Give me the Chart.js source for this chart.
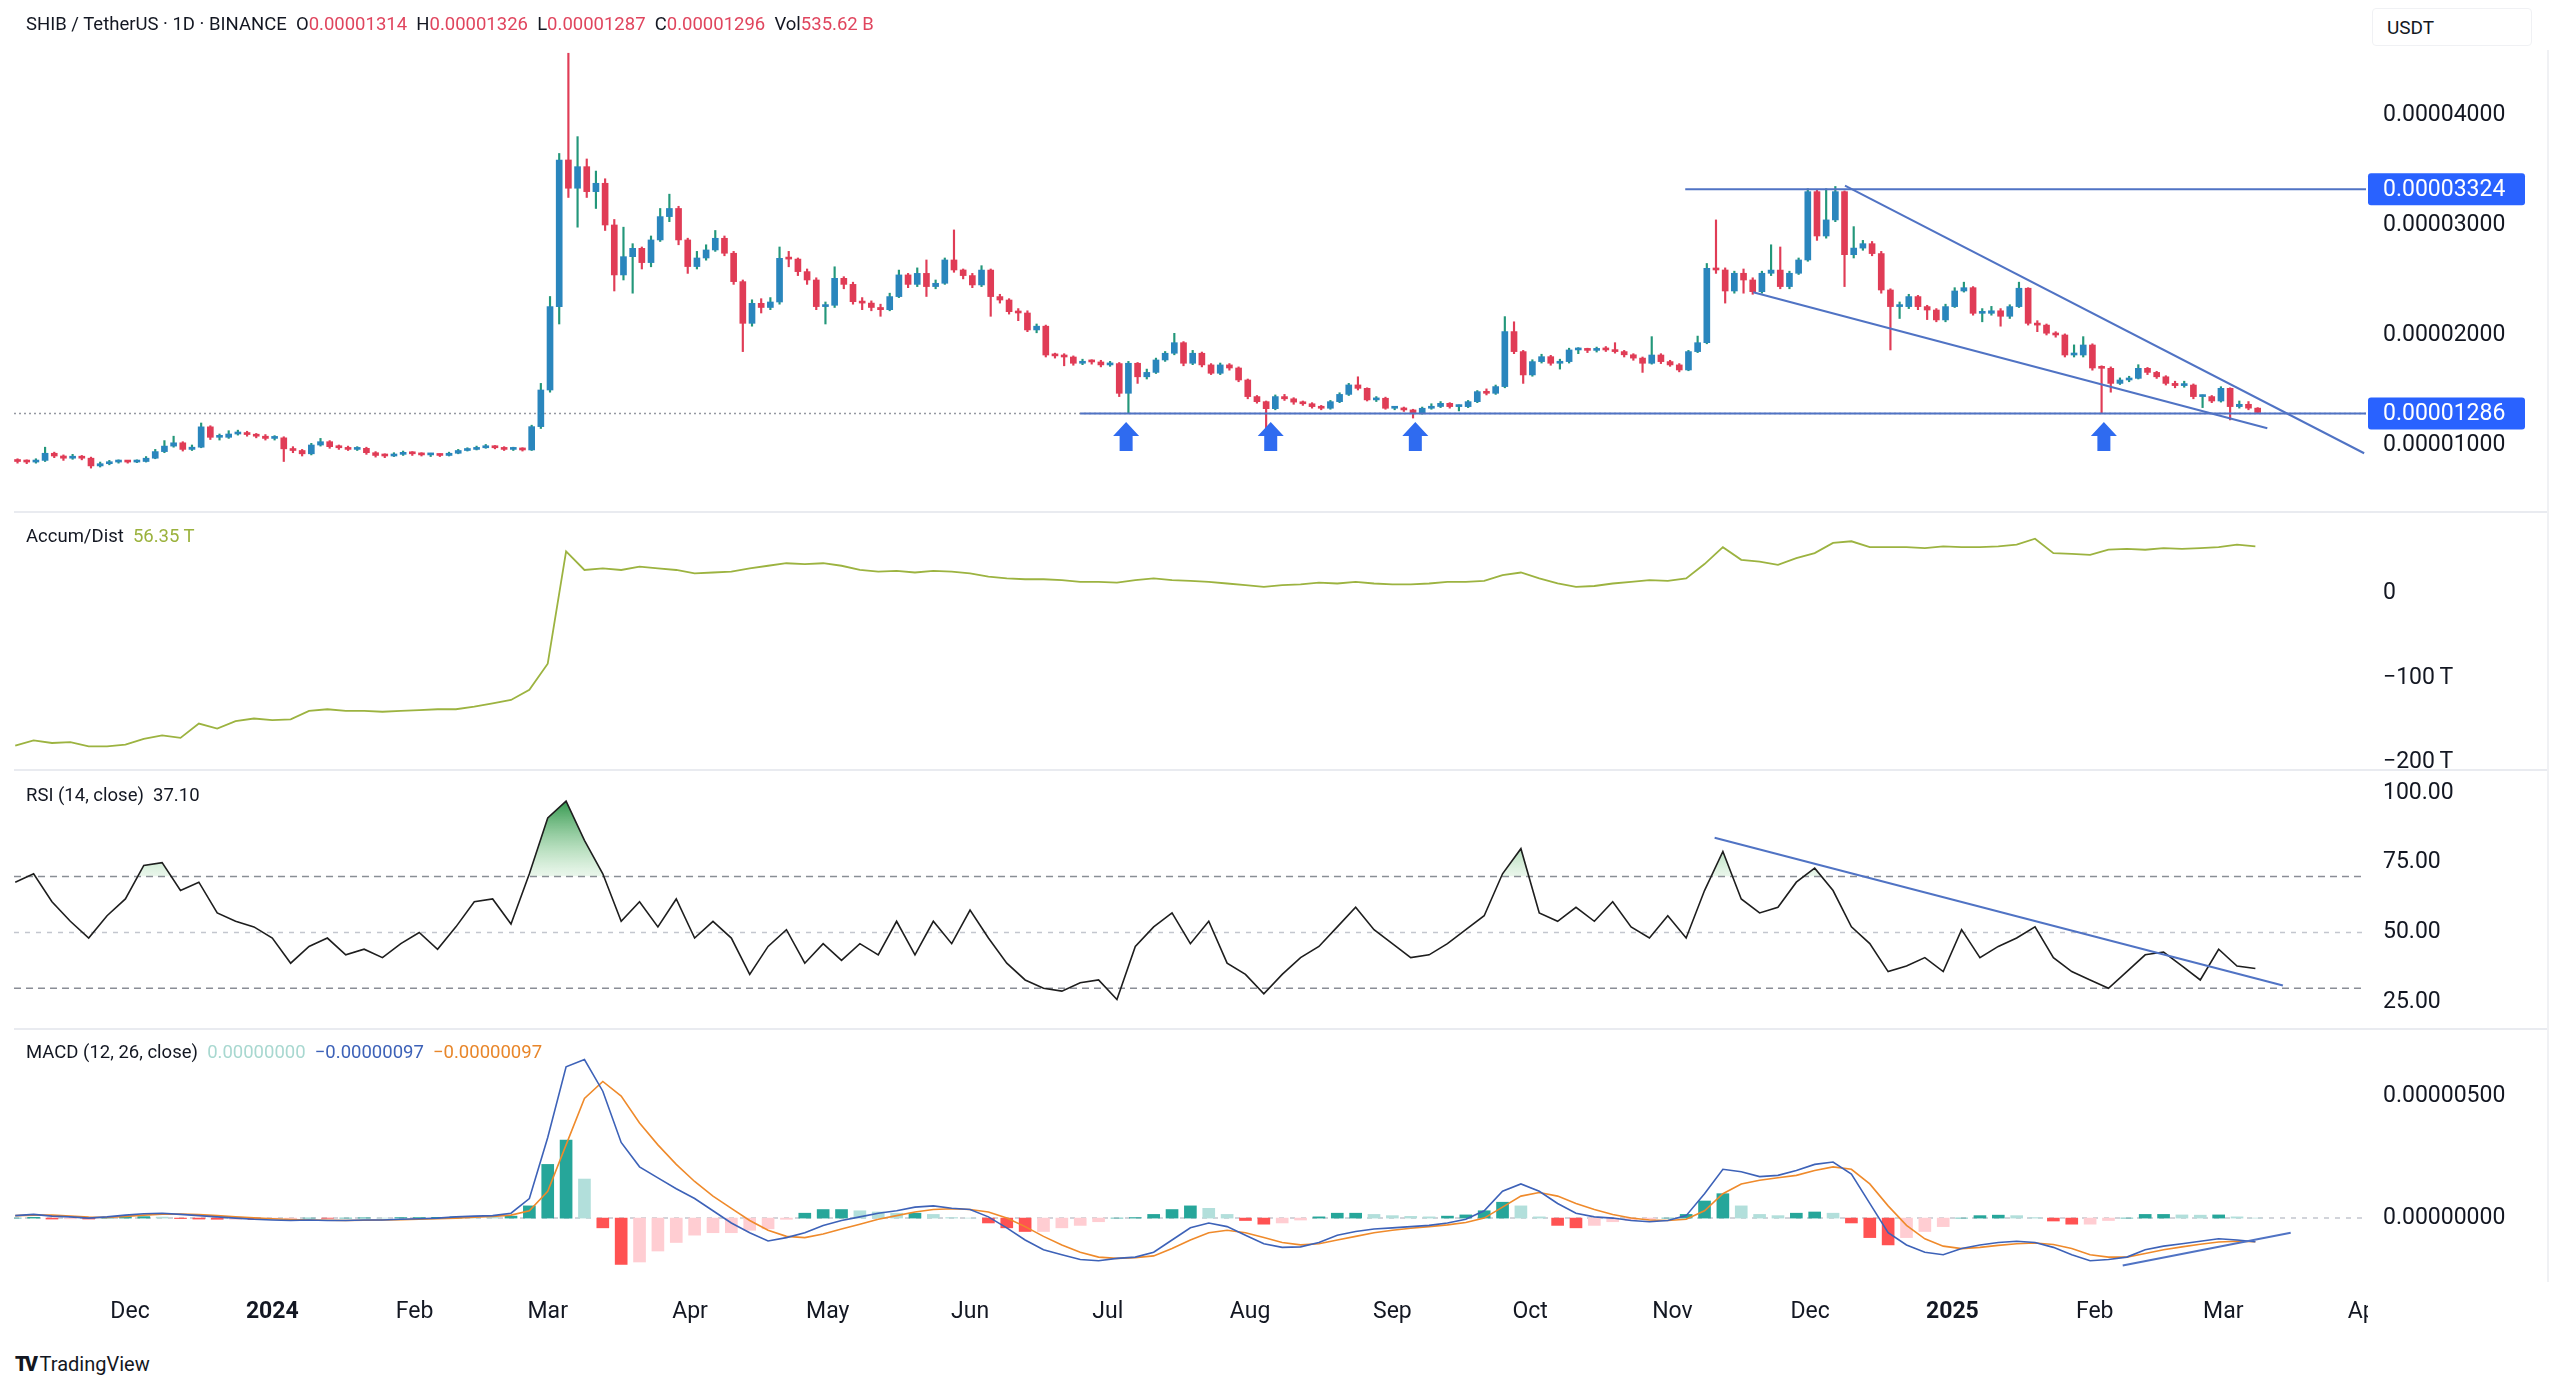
<!DOCTYPE html>
<html>
<head>
<meta charset="utf-8">
<script src="https://cdn.jsdelivr.net/npm/chart.js@4.4.1/dist/chart.umd.min.js"></script>
<style>
  html, body { margin: 0; padding: 0; background: #fff; }
  #wrap { position: relative; width: 2560px; height: 1387px; overflow: hidden;
          font-family: Roboto, "Noto Sans", sans-serif; color: #131722; }
  #wrap canvas { position: absolute; left: 0; }
  .lbl { position: absolute; white-space: pre; font-size: 18.5px; line-height: 24px; }
  .red { color: #e0455e; }
  .sep { position: absolute; left: 14px; width: 2534px; height: 2px; background: #e9ebf0; }
</style>
</head>
<body>
<div id="wrap">
  <canvas id="cMain" width="2560" height="512" style="top:0px"></canvas>
  <canvas id="cAD" width="2560" height="258" style="top:512px"></canvas>
  <canvas id="cRSI" width="2560" height="259" style="top:770px"></canvas>
  <canvas id="cMACD" width="2560" height="311" style="top:1029px"></canvas>

  <div class="sep" style="top:511px"></div>
  <div class="sep" style="top:769px"></div>
  <div class="sep" style="top:1028px"></div>
  <div style="position:absolute;left:2547px;top:50px;width:2px;height:1232px;background:#f0f1f4"></div>

  <div class="lbl" style="left:26px;top:12px">SHIB / TetherUS · 1D · BINANCE  O<span class="red">0.00001314</span>  H<span class="red">0.00001326</span>  L<span class="red">0.00001287</span>  C<span class="red">0.00001296</span>  Vol<span class="red">535.62 B</span></div>
  <div class="lbl" style="left:2372px;top:8px;width:160px;height:38px;line-height:38px;font-size:19px;padding-left:14px;box-sizing:border-box;border:1px solid #f0f1f4;border-radius:4px;background:#fff">USDT</div>
  <div class="lbl" style="left:26px;top:524px">Accum/Dist  <span style="color:#9bb23d">56.35 T</span></div>
  <div class="lbl" style="left:26px;top:783px">RSI (14, close)  37.10</div>
  <div class="lbl" style="left:26px;top:1040px">MACD (12, 26, close)  <span style="color:#a8d8d0">0.00000000</span>  <span style="color:#3d62b8">−0.00000097</span>  <span style="color:#e8862a">−0.00000097</span></div>
  <div class="lbl" style="left:15px;top:1352px;font-size:20px"><b style="letter-spacing:-3px;font-weight:900">TV</b> TradingView</div>
</div>

<script>
// ---- data (prices in units of 1e-8 USDT), 2-day candles starting at day -25 (day 0 = 1 Dec 2023)
const CANDLE_START = -25;
const CANDLE_SPAN = 2;
const firstOpen = 860;
const closes = [
  850,845,860,925,900,880,895,880,810,830,
  845,850,845,850,880,940,990,1020,960,980,
  1165,1070,1070,1100,1110,1095,1080,1060,1065,965,
  950,920,1000,1030,985,975,960,970,930,905,
  900,915,930,920,910,910,905,925,950,960,
  975,990,975,960,965,955,1167,1500,2258,3591,
  3334,3530,3303,3379,3000,2546,2712,2788,2658,2864,
  3076,3150,2864,2622,2700,2773,2879,2743,2485,2106,
  2288,2250,2300,2697,2690,2576,2500,2258,2270,2515,
  2460,2303,2290,2250,2230,2349,2546,2460,2560,2440,
  2470,2682,2591,2540,2455,2590,2349,2318,2212,2200,
  2046,2080,1818,1810,1800,1743,1758,1755,1728,1740,
  1470,1743,1620,1660,1773,1834,1930,1743,1834,1728,
  1652,1728,1700,1591,1440,1394,1330,1440,1420,1390,
  1375,1349,1334,1394,1460,1546,1515,1410,1425,1334,
  1335,1319,1290,1334,1350,1379,1349,1349,1394,1485,
  1470,1531,2031,1849,1637,1758,1803,1743,1758,1864,
  1864,1860,1870,1864,1849,1820,1790,1743,1818,1758,
  1728,1682,1849,1930,2606,2591,2400,2561,2500,2394,
  2561,2590,2440,2561,2682,3303,2900,3046,3303,2730,
  2790,2830,2740,2409,2258,2258,2349,2258,2227,2137,
  2258,2400,2430,2197,2197,2220,2170,2258,2425,2106,
  2090,2016,2000,1818,1818,1909,1700,1697,1560,1591,
  1606,1697,1660,1620,1560,1540,1545,1440,1440,1400,
  1515,1349,1370,1335,1296
];
const highs = [
  875,865,875,980,935,910,915,905,890,845,
  860,865,860,865,895,960,1040,1080,1030,1000,
  1200,1175,1100,1130,1135,1125,1105,1095,1085,1075,
  985,960,1015,1060,1040,1000,990,985,980,940,
  920,930,945,940,930,925,920,935,960,975,
  990,1005,995,985,980,975,1180,1560,2350,3650,
  4561,3803,3600,3490,3420,3050,2980,2830,2800,2900,
  3150,3280,3170,2880,2760,2820,2950,2900,2760,2500,
  2320,2330,2340,2800,2760,2700,2600,2520,2300,2620,
  2530,2480,2340,2310,2280,2380,2590,2560,2610,2682,
  2500,2700,2955,2600,2560,2630,2600,2370,2330,2240,
  2220,2100,2090,1835,1830,1810,1780,1775,1770,1760,
  1750,1760,1750,1690,1790,1850,2015,1940,1860,1845,
  1740,1745,1740,1710,1600,1450,1400,1455,1460,1430,
  1400,1385,1360,1405,1475,1560,1620,1520,1440,1435,
  1350,1345,1325,1345,1375,1395,1385,1365,1405,1495,
  1510,1545,2167,2120,1860,1775,1825,1815,1780,1880,
  1885,1880,1890,1895,1930,1860,1830,1800,1985,1830,
  1770,1740,1860,1990,2650,3046,2610,2580,2600,2520,
  2580,2820,2800,2580,2700,3330,3320,3330,3350,3310,
  2985,2860,2850,2760,2420,2300,2370,2360,2270,2240,
  2280,2430,2480,2440,2240,2260,2240,2275,2480,2430,
  2130,2100,2030,2010,1910,1985,1920,1720,1710,1610,
  1625,1730,1705,1670,1630,1580,1580,1555,1455,1450,
  1530,1520,1400,1395,1340
];
const lows = [
  835,830,835,850,885,860,870,865,790,800,
  820,835,835,840,845,875,930,980,945,950,
  975,1050,1045,1060,1090,1080,1065,1045,1045,850,
  930,900,910,990,970,960,950,950,915,890,
  885,895,905,905,900,895,895,900,920,945,
  955,970,965,950,950,945,950,1150,1480,2100,
  3250,2980,3250,3150,2950,2400,2500,2380,2600,2620,
  2850,3030,2820,2560,2600,2680,2760,2720,2460,1849,
  2080,2200,2230,2280,2620,2540,2460,2230,2100,2250,
  2420,2280,2230,2220,2170,2220,2340,2430,2440,2350,
  2420,2460,2570,2510,2430,2440,2170,2290,2190,2130,
  2030,2020,1800,1790,1720,1725,1730,1735,1710,1715,
  1440,1290,1560,1600,1650,1760,1820,1720,1730,1710,
  1640,1640,1680,1575,1420,1380,1107,1320,1405,1370,
  1360,1335,1320,1325,1385,1450,1500,1400,1395,1325,
  1320,1305,1245,1280,1325,1340,1335,1310,1340,1385,
  1455,1460,1520,1830,1560,1625,1745,1725,1690,1745,
  1830,1840,1845,1850,1835,1800,1770,1660,1735,1740,
  1715,1665,1675,1840,1920,2560,2290,2380,2380,2370,
  2380,2540,2420,2420,2550,2670,2860,2880,3030,2440,
  2700,2770,2720,2380,1864,2150,2240,2230,2140,2120,
  2120,2250,2390,2180,2120,2180,2080,2150,2250,2090,
  2030,2000,1980,1800,1800,1800,1680,1290,1480,1550,
  1575,1600,1640,1605,1545,1520,1525,1420,1340,1385,
  1390,1228,1335,1320,1287
];

// indicators sampled every 4 days from day -25
const IND_START = -25;
const IND_STEP = 4;
const adValues = [ // trillions
  -180,-174,-177,-176,-181,-181,-179,-172,-168,-171,
  -154,-160,-151,-148,-150,-149,-139,-137,-139,-139,
  -140,-139,-138,-137,-137,-134,-130,-126,-114,-83,
  50,28,30,28,32,30,28,24,25,26,
  30,33,36,35,36,33,28,26,27,25,
  27,26,24,20,18,17,17,16,14,14,
  13,16,18,16,15,14,12,10,8,10,
  11,13,12,14,12,11,11,12,14,14,
  15,22,25,18,12,8,9,12,14,16,
  15,18,35,55,40,38,34,42,48,60,
  62,55,55,55,54,56,55,55,56,58,
  65,48,47,46,52,53,52,54,53,54,
  55,58,56
];
const rsiValues = [
  68,71,61,54,48,56,62,74,75,65,
  68,57,54,52,48,39,45,48,42,44,
  41,46,50,44,52,61,62,53,71,91,
  97,83,71,54,61,52,62,48,54,48,
  35,45,51,39,46,40,46,42,54,42,
  54,46,58,48,39,33,30,29,32,33,
  26,45,52,57,46,54,39,35,28,35,
  41,45,52,59,51,46,41,42,46,51,
  56,71,80,57,54,59,54,61,52,48,
  56,48,65,79,62,57,59,68,73,65,
  52,46,36,38,41,36,51,41,45,48,
  52,41,36,33,30,36,42,43,38,33,
  44,38,37.1
];
const macdValues = [ // units of 1e-8
  10,15,8,5,0,5,12,18,20,15,
  10,5,0,-5,-8,-10,-8,-10,-10,-8,
  -8,-5,-3,0,5,8,10,20,80,330,
  620,650,520,310,210,165,120,80,30,-20,
  -60,-94,-80,-60,-30,-10,5,20,30,45,
  50,40,35,5,-40,-90,-130,-150,-170,-175,
  -165,-160,-140,-90,-40,-20,-35,-70,-105,-120,
  -118,-100,-70,-55,-45,-40,-35,-30,-20,-5,
  30,110,140,110,60,20,5,0,-10,-15,
  -10,10,100,200,190,170,175,195,220,230,
  180,60,-60,-110,-140,-150,-125,-110,-100,-95,
  -100,-120,-150,-175,-170,-160,-130,-115,-105,-95,
  -85,-90,-97
];
const signalValues = [
  10,12,12,8,4,3,7,12,16,17,
  14,10,5,1,-3,-6,-8,-9,-10,-9,
  -8,-7,-5,-3,0,4,7,12,30,110,
  300,490,560,500,390,300,220,150,90,40,
  -10,-50,-75,-80,-65,-45,-25,-5,10,25,
  35,38,35,25,0,-35,-75,-110,-140,-160,
  -165,-162,-155,-125,-90,-60,-50,-60,-80,-100,
  -110,-105,-90,-75,-60,-50,-42,-35,-28,-18,
  0,45,90,105,90,60,35,15,0,-8,
  -10,-5,30,100,140,155,165,175,195,210,
  200,140,50,-30,-85,-115,-125,-120,-112,-105,
  -102,-108,-125,-150,-160,-160,-145,-130,-118,-107,
  -98,-95,-97
];
const histValues = [
  0,3,-4,-3,-4,2,5,6,4,-2,
  -4,-5,-5,-6,-5,-4,0,-1,0,1,
  0,2,2,3,5,4,3,8,50,220,
  320,160,-40,-190,-180,-135,-100,-70,-60,-60,
  -50,-44,-5,20,35,35,30,25,20,20,
  15,2,0,-20,-40,-55,-55,-40,-30,-15,
  0,2,15,35,50,40,15,-10,-25,-20,
  -8,5,20,20,15,10,7,5,8,13,
  30,65,50,5,-30,-40,-30,-15,-10,-7,
  0,15,70,100,50,15,10,20,25,20,
  -20,-80,-110,-80,-55,-35,0,10,12,10,
  2,-12,-25,-25,-10,0,15,15,13,12,
  13,5,0
];

// axis ticks
const monthDays   = [0, 31, 62, 91, 122, 152, 183, 213, 244, 275, 305, 336, 366, 397, 428, 456, 487];
const monthLabels = ['Dec','2024','Feb','Mar','Apr','May','Jun','Jul','Aug','Sep','Oct','Nov','Dec','2025','Feb','Mar','Apr'];
const priceTicks = [1000, 2000, 3000, 4000];
const adTicks = [0, -100, -200];
const rsiTicks = [100, 75, 50, 25];
const macdTicks = [500, 0];

// drawings (day, value)
const resistanceLine = [[338.8, 3324], [487.1, 3324]];
const supportLine    = [[207, 1286], [487.1, 1286]];
const wedgeUpper     = [[373.6, 3358], [486.7, 925]];
const wedgeLower     = [[353.6, 2388], [465.6, 1152]];
const rsiTrend       = [[345.2, 83.9], [469, 31]];
const macdTrend      = [[434.1, -194], [470.7, -60]];
const priceMarks     = [3324, 1286];
const lastPriceLevel = 1286;
const arrowDays      = [217, 248.5, 280, 430];
const arrowTipPrice  = 1209;
const rsiLevels      = [70, 50, 30];

// ---- styling
const FONT = 'Roboto, "Noto Sans", sans-serif';
const X_MIN = -25.27, X_MAX = 487.1;
const UP_BODY = '#2a86bd', UP_WICK = '#23977a', DOWN = '#e03c56';
const DRAW_BLUE = '#5073c4';
const TAG_BLUE = '#2962ff';

const opens = closes.map((c, i) => i === 0 ? firstOpen : closes[i - 1]);
const candleX = closes.map((c, i) => CANDLE_START + i * CANDLE_SPAN + 0.5);
const isUp = closes.map((c, i) => c >= opens[i]);
const indX = adValues.map((v, i) => IND_START + i * IND_STEP);
const pts = pairs => pairs.map(p => ({x: p[0], y: p[1]}));
const series = vals => vals.map((v, i) => ({x: indX[i], y: v}));

function noPad(s) { s.paddingTop = 0; s.paddingBottom = 0; s.paddingLeft = 0; s.paddingRight = 0; }

function xAxis(show) {
  return {
    type: 'linear', min: X_MIN, max: X_MAX, offset: false, display: show,
    grid: {display: false, drawTicks: false}, border: {display: false},
    afterFit: s => { if (show) s.height = 58; noPad(s); },
    afterBuildTicks: s => { s.ticks = monthDays.map(v => ({value: v})); },
    ticks: {
      autoSkip: false, maxRotation: 0, padding: 16, color: '#131722',
      font: c => ({family: FONT, size: 23, weight: /^\d{4}$/.test(monthLabels[c.index]) ? '700' : '400'}),
      callback: (v, i) => monthLabels[i]
    }
  };
}
function yAxis(min, max, ticks, fmt) {
  return {
    type: 'linear', position: 'right', min: min, max: max,
    grid: {display: false, drawTicks: false}, border: {display: false},
    afterFit: s => { s.width = 182; noPad(s); },
    afterBuildTicks: s => { s.ticks = ticks.map(v => ({value: v})); },
    ticks: {padding: 17, color: '#131722', font: {family: FONT, size: 23}, callback: fmt}
  };
}
const base = {
  responsive: false, animation: false, devicePixelRatio: 1, events: [],
  layout: {padding: {left: 14, right: 12, top: 0, bottom: 0}},
  plugins: {legend: {display: false}, tooltip: {enabled: false}}
};
const fmtPrice = v => (v * 1e-8).toFixed(8);
const lineDs = (data, color, width, order) => ({
  type: 'line', data: data, borderColor: color, borderWidth: width,
  pointRadius: 0, tension: 0, fill: false, order: order
});

function hLine(ctx, area, y, color, dash, width) {
  ctx.save();
  ctx.strokeStyle = color; ctx.lineWidth = width; ctx.setLineDash(dash);
  ctx.beginPath(); ctx.moveTo(area.left, y); ctx.lineTo(area.right, y); ctx.stroke();
  ctx.restore();
}

// main price panel
const mainDecor = {
  id: 'mainDecor',
  beforeDatasetsDraw(chart) {
    const y = chart.scales.y;
    hLine(chart.ctx, chart.chartArea, y.getPixelForValue(lastPriceLevel), '#9598a1', [2, 3], 1.5);
  },
  afterDatasetsDraw(chart) {
    const {ctx, scales: {x, y}} = chart;
    ctx.save();
    ctx.fillStyle = '#2f6bf0';
    arrowDays.forEach(d => {
      const px = x.getPixelForValue(d), py = y.getPixelForValue(arrowTipPrice);
      ctx.beginPath();
      ctx.moveTo(px, py);
      ctx.lineTo(px + 13, py + 14); ctx.lineTo(px + 6.5, py + 14);
      ctx.lineTo(px + 6.5, py + 29); ctx.lineTo(px - 6.5, py + 29);
      ctx.lineTo(px - 6.5, py + 14); ctx.lineTo(px - 13, py + 14);
      ctx.closePath(); ctx.fill();
    });
    ctx.restore();
  },
  afterDraw(chart) {
    const {ctx, chartArea, scales: {y}} = chart;
    ctx.save();
    priceMarks.forEach(v => {
      const py = y.getPixelForValue(v);
      ctx.fillStyle = TAG_BLUE;
      ctx.beginPath();
      ctx.roundRect(chartArea.right + 2, py - 16, 157, 32, 3);
      ctx.fill();
      ctx.fillStyle = '#ffffff';
      ctx.font = '23px ' + FONT;
      ctx.textBaseline = 'middle';
      ctx.fillText(fmtPrice(v), chartArea.right + 17, py + 1);
    });
    ctx.restore();
  }
};

new Chart(document.getElementById('cMain'), {
  type: 'bar',
  data: {
    datasets: [
      lineDs(pts(resistanceLine), DRAW_BLUE, 2, 0),
      lineDs(pts(supportLine), DRAW_BLUE, 2, 0),
      lineDs(pts(wedgeUpper), DRAW_BLUE, 2, 0),
      lineDs(pts(wedgeLower), DRAW_BLUE, 2, 0),
      {
        type: 'bar', grouped: false, order: 3, barThickness: 1.5,
        data: candleX.map((x, i) => ({x: x, y: [lows[i], highs[i]]})),
        backgroundColor: isUp.map(u => u ? UP_WICK : DOWN)
      },
      {
        type: 'bar', grouped: false, order: 2, barThickness: 6, minBarLength: 2,
        data: candleX.map((x, i) => ({x: x, y: [opens[i], closes[i]]})),
        backgroundColor: isUp.map(u => u ? UP_BODY : DOWN)
      }
    ]
  },
  options: Object.assign({}, base, {
    scales: {x: xAxis(false), y: yAxis(391, 5045, priceTicks, fmtPrice)}
  }),
  plugins: [mainDecor]
});

// accumulation / distribution
new Chart(document.getElementById('cAD'), {
  type: 'line',
  data: {datasets: [lineDs(series(adValues), '#9cb340', 1.8, 0)]},
  options: Object.assign({}, base, {
    scales: {
      x: xAxis(false),
      y: yAxis(-209, 96.7, adTicks, v => v === 0 ? '0' : '\u2212' + Math.abs(v) + '\u2009T')
    }
  })
});

// RSI
const rsiDecor = {
  id: 'rsiDecor',
  beforeDatasetsDraw(chart) {
    const y = chart.scales.y;
    rsiLevels.forEach(v => {
      const mid = v === 50;
      hLine(chart.ctx, chart.chartArea, y.getPixelForValue(v), mid ? '#c3c6ce' : '#8a8d96', mid ? [5, 6] : [7, 5], 1.5);
    });
  }
};
const rsiChart = new Chart(document.getElementById('cRSI'), {
  type: 'line',
  data: {
    datasets: [
      Object.assign(lineDs(series(rsiValues), '#1e1e1e', 1.6, 1), {fill: false}),
      lineDs(pts(rsiTrend), DRAW_BLUE, 2, 0)
    ]
  },
  options: Object.assign({}, base, {
    scales: {x: xAxis(false), y: yAxis(15.8, 107.8, rsiTicks, v => v.toFixed(2))}
  }),
  plugins: [rsiDecor]
});
{
  const ys = rsiChart.scales.y;
  const g = rsiChart.ctx.createLinearGradient(0, ys.getPixelForValue(98), 0, ys.getPixelForValue(70));
  g.addColorStop(0, 'rgba(30,140,60,0.95)');
  g.addColorStop(1, 'rgba(120,200,130,0.15)');
  rsiChart.data.datasets[0].fill = {target: {value: 70}, above: g, below: 'rgba(0,0,0,0)'};
  rsiChart.update('none');
}

// MACD
const macdDecor = {
  id: 'macdDecor',
  beforeDatasetsDraw(chart) {
    hLine(chart.ctx, chart.chartArea, chart.scales.y.getPixelForValue(0), '#c3c6ce', [5, 6], 1.5);
  },
  afterDraw(chart) {
    const {ctx, chartArea} = chart;
    ctx.save();
    ctx.fillStyle = '#ffffff';
    ctx.fillRect(chartArea.right + 2, chartArea.bottom + 2, chart.width - chartArea.right, chart.height - chartArea.bottom);
    ctx.restore();
  }
};
const histColors = histValues.map((h, i) => {
  const prev = i > 0 ? histValues[i - 1] : 0;
  if (h >= 0) return h >= prev ? '#26a69a' : '#b2dfdb';
  return h < prev ? '#ff5252' : '#ffcdd2';
});
new Chart(document.getElementById('cMACD'), {
  type: 'bar',
  data: {
    datasets: [
      {type: 'bar', grouped: false, order: 3, barThickness: 12, data: series(histValues), backgroundColor: histColors},
      lineDs(series(macdValues), '#3d62b8', 1.6, 1),
      lineDs(series(signalValues), '#ef8a2b', 1.6, 2),
      lineDs(pts(macdTrend), DRAW_BLUE, 2, 0)
    ]
  },
  options: Object.assign({}, base, {
    scales: {x: xAxis(true), y: yAxis(-262, 775, macdTicks, fmtPrice)}
  }),
  plugins: [macdDecor]
});
</script>
</body>
</html>
